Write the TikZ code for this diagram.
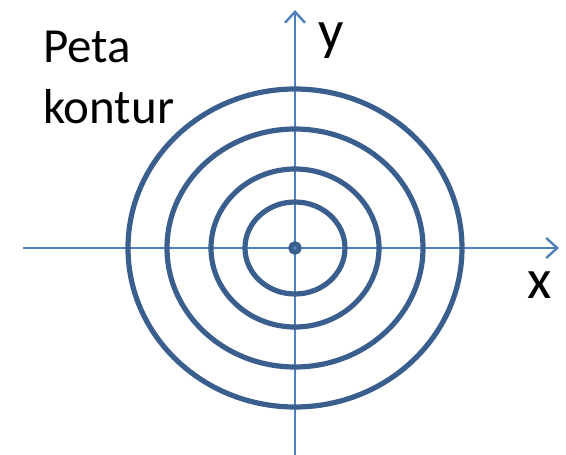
\documentclass[tikz,border=0pt]{standalone}
\usepackage{fontspec}
\setmainfont{Carlito}
\usepackage{tikz}
\usetikzlibrary{
  arrows.meta
}

\definecolor{axisblue}{HTML}{4F81BD}
\definecolor{ringblue}{HTML}{3A5F8E}

\begin{document}
\begin{tikzpicture}[
  x=1pt, y=-1pt,
  axis/.style={draw=axisblue, line width=2.4pt, -{Straight Barb[length=11pt, width=20pt, line width=2.4pt]}},
  ring/.style={draw=ringblue, line width=5.2pt},
  axlabel/.style={font=\fontsize{56}{60}\selectfont, anchor=base, inner sep=0pt},
  title/.style={font=\fontsize{49}{60}\selectfont, anchor=base west, inner sep=0pt},
]
\useasboundingbox (0,0) rectangle (566,455);

% Sumbu
\coordinate (o) at (295,248);
\coordinate (xa) at (23,248);
\coordinate (xb) at (559,248);
\coordinate (ya) at (295,455);
\coordinate (yb) at (295,10);
\draw[axis] (xa) -- (xb);
\draw[axis] (ya) -- (yb);

% Kontur
\foreach \rx/\ry in {167/159,128/119,84/79,50/46} {
  \draw[ring] (o) ellipse ({\rx} and {\ry});
}
\filldraw[draw=ringblue, fill=axisblue, line width=4.5pt] (o) circle (4.5);

% Label
\node[axlabel] (ylab) at (331,49) {y};
\node[axlabel] (xlab) at (540,298) {x};
\node[title] (peta) at (43,62) {Peta};
\node[title] (kontur) at (43,123) {kontur};

\end{tikzpicture}
\end{document}
